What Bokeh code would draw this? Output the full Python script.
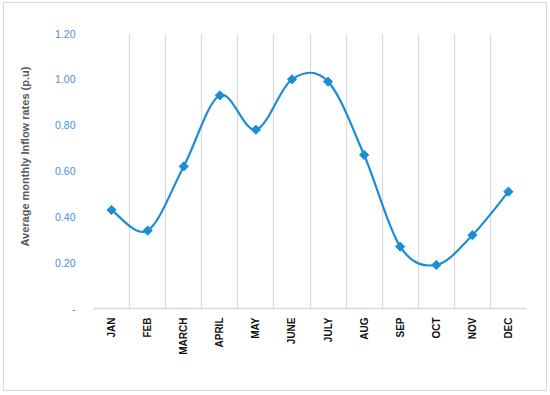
import numpy as np
from bokeh.plotting import figure
from bokeh.models import FixedTicker, Range1d, ColumnDataSource, Title
from bokeh.embed import file_html
from bokeh.resources import INLINE

months = ["JAN", "FEB", "MARCH", "APRIL", "MAY", "JUNE", "JULY", "AUG", "SEP", "OCT", "NOV", "DEC"]
inflow = [0.43, 0.34, 0.62, 0.93, 0.78, 1.00, 0.99, 0.67, 0.27, 0.19, 0.32, 0.51]
y_ticks = [0.0, 0.2, 0.4, 0.6, 0.8, 1.0, 1.2]
y_title = "Average monthly Inflow rates  (p.u)"

LINE = "#1b8ed6"

x = np.arange(len(months)) + 0.5
y = np.array(inflow)

# smooth (Catmull-Rom style) Bezier segments, control points derived from the data
xp = np.concatenate([[x[0]], x, [x[-1]]])
yp = np.concatenate([[y[0]], y, [y[-1]]])
seg = dict(x0=[], y0=[], x1=[], y1=[], cx0=[], cy0=[], cx1=[], cy1=[])
for i in range(len(x) - 1):
    p0x, p0y = xp[i], yp[i]
    p1x, p1y = xp[i + 1], yp[i + 1]
    p2x, p2y = xp[i + 2], yp[i + 2]
    p3x, p3y = xp[i + 3], yp[i + 3]
    seg["x0"].append(p1x); seg["y0"].append(p1y)
    seg["x1"].append(p2x); seg["y1"].append(p2y)
    seg["cx0"].append(p1x + (p2x - p0x) / 6); seg["cy0"].append(p1y + (p2y - p0y) / 6)
    seg["cx1"].append(p2x - (p3x - p1x) / 6); seg["cy1"].append(p2y - (p3y - p1y) / 6)

p = figure(width=544, height=389, output_backend="svg", toolbar_location=None,
           x_range=Range1d(0, 12), y_range=Range1d(0, 1.2))
p.outline_line_color = None
p.border_fill_color = "white"
p.background_fill_color = "white"
p.min_border = 0
p.min_border_left = 89
p.min_border_right = 22
p.min_border_top = 30
p.min_border_bottom = 84
p.styles = {"border": "1px solid #d9d9d9", "margin-left": "3px", "margin-top": "2px"}

p.bezier(x0="x0", y0="y0", x1="x1", y1="y1", cx0="cx0", cy0="cy0", cx1="cx1", cy1="cy1",
         source=ColumnDataSource(seg), line_color=LINE, line_width=2.2)
p.scatter(x, y, marker="square", angle=np.pi / 4, size=6.5, fill_color=LINE, line_color=LINE)

# y axis
p.yaxis.ticker = FixedTicker(ticks=y_ticks)
p.yaxis.major_label_overrides = {t: ("-" if t == 0 else f"{t:.2f}") for t in y_ticks}
p.yaxis.axis_line_color = None
p.yaxis.major_tick_line_color = None
p.yaxis.minor_tick_line_color = None
p.yaxis.major_label_text_color = "#4a8ed8"
p.yaxis.major_label_text_font = "Liberation Sans"
p.yaxis.major_label_text_font_size = "10.5px"
p.yaxis.major_label_standoff = 12
# blank spacer label to widen the axis panel
p.yaxis.axis_label = " "
p.yaxis.axis_label_standoff = 0
p.yaxis.axis_label_text_font_size = "12px"

p.add_layout(Title(text=y_title, align="left", offset=62,
                   text_font="Liberation Sans", text_font_style="bold",
                   text_font_size="11px", text_color="#595959"), "left")

# x axis
p.xaxis.ticker = FixedTicker(ticks=list(x))
p.xaxis.major_label_overrides = {float(xi): m for xi, m in zip(x, months)}
p.xaxis.major_label_orientation = np.pi / 2
p.xaxis.axis_line_color = "#d9d9d9"
p.xaxis.axis_line_width = 1.5
p.xaxis.major_tick_line_color = None
p.xaxis.minor_tick_line_color = None
p.xaxis.major_label_text_font = "Liberation Sans"
p.xaxis.major_label_text_font_style = "bold"
p.xaxis.major_label_text_font_size = "10px"
p.xaxis.major_label_text_color = "#111111"
p.xaxis.major_label_standoff = 3

# grid
p.ygrid.grid_line_color = None
p.xgrid.ticker = FixedTicker(ticks=list(range(13)))
p.xgrid.grid_line_color = "#d9d9d9"
p.xgrid.grid_line_width = 1.2

open("out.html", "w").write(file_html(p, INLINE))
